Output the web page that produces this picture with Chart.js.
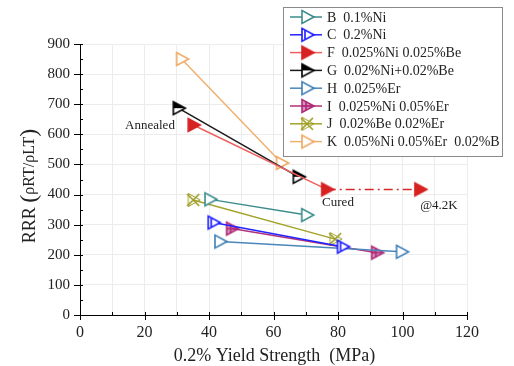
<!DOCTYPE html>
<html><head><meta charset="utf-8">
<style>html,body{margin:0;padding:0;background:#fff}</style>
<script src="https://cdn.jsdelivr.net/npm/chart.js@4"></script>
</head><body>
<canvas id="c" width="514" height="366"></canvas>
<script>
// ---- data ----
const seriesLabels = ['B  0.1%Ni','C  0.2%Ni','F  0.025%Ni 0.025%Be','G  0.02%Ni+0.02%Be','H  0.025%Er','I  0.025%Ni 0.05%Er','J  0.02%Be 0.02%Er','K  0.05%Ni 0.05%Er  0.02%B'];
const xB = [40.3, 70.3];        const yB = [384, 332];
const xC = [41.3, 81.4];        const yC = [307, 227];
const xF = [35.1, 76.5, 105.4]; const yF = [631, 417, 417];
const xG = [30.5, 67.7];        const yG = [687, 459];
const xH = [43.4, 99.7];        const yH = [244, 210];
const xI = [47.0, 92.0];        const yI = [287, 207];
const xJ = [35.1, 79.1];        const yJ = [382, 252];
const xK = [31.5, 62.5];        const yK = [850, 505];
const xTicks = [0, 20, 40, 60, 80, 100, 120];
const yTicks = [0, 100, 200, 300, 400, 500, 600, 700, 800, 900];
const notes = [
  {text:'Annealed', x:21.7, y:628},
  {text:'Cured', x:80.0, y:372},
  {text:'@4.2K', x:111.3, y:362}
];
const xTitle = '0.2% Yield Strength  (MPa)';
const yTitleParts = [['RRR',18], [' ',18], ['(',24], ['ρRT/ρLT',16], [')',24]];

const SERIF = '"Liberation Serif","DejaVu Serif",serif';

// ---- marker images ----
function tri(ctx){ ctx.beginPath(); ctx.moveTo(-5,-6.5); ctx.lineTo(-5,6.5); ctx.lineTo(7,0); ctx.closePath(); }
function marker(kind, color){
  const c = document.createElement('canvas'); c.width = 20; c.height = 20;
  const g = c.getContext('2d'); g.translate(10,10); g.lineWidth = 1.6; g.strokeStyle = color; g.fillStyle = color;
  if (kind === 'hollow') { g.fillStyle='#fff'; tri(g); g.fill(); tri(g); g.stroke(); }
  else if (kind === 'filled') { tri(g); g.fill(); tri(g); g.stroke(); }
  else if (kind === 'half') {
    g.fillStyle='#fff'; tri(g); g.fill();
    g.save(); tri(g); g.clip(); g.fillStyle=color; g.fillRect(-8,-8,16,8); g.restore();
    tri(g); g.stroke();
  }
  else if (kind === 'bar') {
    g.fillStyle='#fff'; tri(g); g.fill(); tri(g); g.stroke();
    g.beginPath(); g.moveTo(-2,-4.5); g.lineTo(-2,4.5); g.stroke();
  }
  else if (kind === 'plus') {
    tri(g); g.stroke();
    g.beginPath(); g.moveTo(-1,-5); g.lineTo(-1,5); g.moveTo(-5,0); g.lineTo(5,0); g.stroke();
    g.globalAlpha=0.5; tri(g); g.fill();
  }
  else if (kind === 'x') {
    g.beginPath(); g.moveTo(-6,-6); g.lineTo(6,6); g.moveTo(-6,6); g.lineTo(6,-6); g.stroke();
    g.lineWidth=1; tri(g); g.stroke();
  }
  return c;
}

const styles = [
  {line:'#3c8c8c', color:'#3c8c8c', kind:'hollow'},
  {line:'#2222ff', color:'#1a1aff', kind:'bar'},
  {line:'#ee6060', color:'#d82222', kind:'filled'},
  {line:'#1a1a1a', color:'#000000', kind:'half'},
  {line:'#4a86b8', color:'#3f7fb5', kind:'hollow'},
  {line:'#b0307a', color:'#b02a78', kind:'plus'},
  {line:'#a3a32a', color:'#9c9c22', kind:'x'},
  {line:'#f0b070', color:'#eea860', kind:'hollow'}
];
const xs = [xB,xC,xF,xG,xH,xI,xJ,xK];
const ys = [yB,yC,yF,yG,yH,yI,yJ,yK];
const images = styles.map(s => marker(s.kind, s.color));

const datasets = seriesLabels.map((lab,i) => ({
  label: lab,
  data: xs[i].map((x,j) => ({x, y: ys[i][j]})),
  borderColor: styles[i].line,
  backgroundColor: styles[i].color,
  borderWidth: 1.5,
  pointStyle: images[i],
  pointRadius: 7,
  showLine: true,
  fill: false,
  segment: i === 2 ? {
    borderDash: ctx => ctx.p0DataIndex === 1 ? [9,4,2,4] : undefined,
    borderColor: ctx => ctx.p0DataIndex === 1 ? '#d62a2a' : undefined
  } : undefined
}));

const deco = {
  id: 'deco',
  afterDraw(chart){
    const ctx = chart.ctx, sx = chart.scales.x, sy = chart.scales.y, ca = chart.chartArea;
    ctx.save();
    ctx.strokeStyle = '#000'; ctx.lineWidth = 1;
    // x ticks
    for (let v = 0; v <= 120; v += 10) {
      const px = Math.round(sx.getPixelForValue(v)) + 0.5;
      ctx.beginPath();
      if (v % 20 === 0) { ctx.moveTo(px, ca.bottom - 3); ctx.lineTo(px, ca.bottom + 5); }
      else { ctx.moveTo(px, ca.bottom); ctx.lineTo(px, ca.bottom - 3); }
      ctx.stroke();
    }
    // y ticks
    for (let v = 0; v <= 900; v += 50) {
      const py = Math.round(sy.getPixelForValue(v)) + 0.5;
      ctx.beginPath();
      if (v % 100 === 0) { ctx.moveTo(ca.left + 3, py); ctx.lineTo(ca.left - 6, py); }
      else { ctx.moveTo(ca.left, py); ctx.lineTo(ca.left + 3, py); }
      ctx.stroke();
    }
    // annotations
    ctx.fillStyle = '#222'; ctx.font = '13px ' + SERIF; ctx.textAlign = 'center'; ctx.textBaseline = 'middle';
    notes.forEach(n => ctx.fillText(n.text, sx.getPixelForValue(n.x), sy.getPixelForValue(n.y)));
    // axis titles
    ctx.fillStyle = '#222';
    ctx.font = '18px ' + SERIF;
    ctx.fillText(xTitle, (ca.left + ca.right) / 2 + 1, 356);
    ctx.save(); ctx.translate(30, 186); ctx.rotate(-Math.PI/2);
    ctx.textAlign = 'left';
    let total = 0;
    yTitleParts.forEach(([t,s]) => { ctx.font = s + 'px ' + SERIF; total += ctx.measureText(t).width; });
    let px = -total / 2;
    yTitleParts.forEach(([t,s]) => { ctx.font = s + 'px ' + SERIF; ctx.fillText(t, px, 0); px += ctx.measureText(t).width; });
    ctx.restore();
    // legend
    const L = 283.5, T = 7.5, W = 219, H = 149;
    ctx.fillStyle = '#fff'; ctx.fillRect(L, T, W, H);
    ctx.strokeStyle = '#8a8a8a'; ctx.lineWidth = 1; ctx.strokeRect(L, T, W, H);
    ctx.font = '14px ' + SERIF; ctx.textAlign = 'left';
    seriesLabels.forEach((lab, i) => {
      const cy = 17 + i * 17.8;
      ctx.strokeStyle = styles[i].line; ctx.lineWidth = 1.5;
      ctx.beginPath(); ctx.moveTo(290, cy); ctx.lineTo(322, cy); ctx.stroke();
      ctx.drawImage(images[i], 307 - 10, cy - 10);
      ctx.fillStyle = '#222'; ctx.fillText(lab, 327, cy + 1);
    });
    ctx.restore();
  }
};

new Chart(document.getElementById('c'), {
  type: 'scatter',
  data: { datasets },
  options: {
    responsive: false,
    animation: false,
    layout: { padding: { top: 44, right: 47, left: 0, bottom: 0 } },
    plugins: { legend: { display: false }, tooltip: { enabled: false } },
    scales: {
      x: {
        type: 'linear', min: 0, max: 120,
        afterFit: s => { s.height = 51; },
        afterBuildTicks: s => { s.ticks = []; for (let v = 0; v <= 120; v += 10) s.ticks.push({value: v}); },
        ticks: { padding: 8, color: '#222', font: { family: SERIF, size: 16 }, maxRotation: 0, autoSkip: false,
                 callback: v => xTicks.includes(v) ? String(v) : '' },
        grid: { color: '#ececec', lineWidth: 1, drawTicks: false },
        border: { color: '#000', width: 1 }
      },
      y: {
        type: 'linear', min: 0, max: 900,
        afterFit: s => { s.width = 80; },
        afterBuildTicks: s => { s.ticks = yTicks.map(v => ({value: v})); },
        ticks: { padding: 10, color: '#222', font: { family: SERIF, size: 15 }, autoSkip: false },
        grid: { color: '#ececec', lineWidth: 1, drawTicks: false },
        border: { color: '#000', width: 1 }
      }
    }
  },
  plugins: [deco]
});
</script>
</body></html>
